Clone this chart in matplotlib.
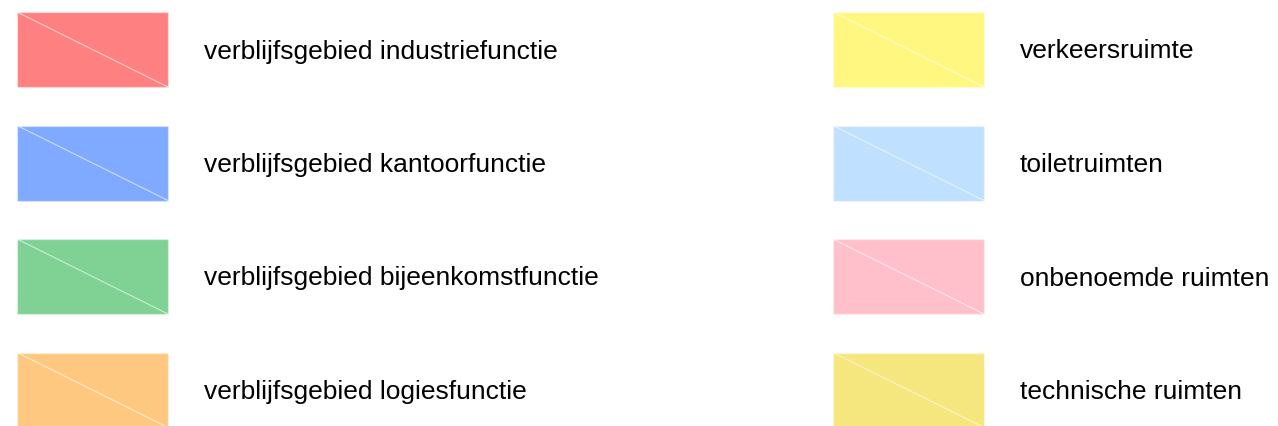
import matplotlib
matplotlib.use("Agg")
import matplotlib.pyplot as plt
from matplotlib.patches import Rectangle

plt.rcParams['font.family'] = ['Liberation Sans', 'DejaVu Sans']

labels_left = [
    "verblijfsgebied industriefunctie",
    "verblijfsgebied kantoorfunctie",
    "verblijfsgebied bijeenkomstfunctie",
    "verblijfsgebied logiesfunctie",
]
labels_right = [
    "verkeersruimte",
    "toiletruimten",
    "onbenoemde ruimten",
    "technische ruimten",
]
colors_left = ["#ff8080", "#80aaff", "#80d294", "#ffc880"]
colors_right = ["#fff780", "#c0e0ff", "#ffc0cb", "#f5e67e"]

W, H = 1278, 426
fig = plt.figure(figsize=(W / 100, H / 100), dpi=100)
ax = fig.add_axes([0, 0, 1, 1])
ax.set_xlim(0, W)
ax.set_ylim(H, 0)
ax.axis("off")

col_x = [17, 833]
row_y0 = 12
row_step = 113.5
sw_w, sw_h = 151, 75
text_dx = 187

for ci, (labels, colors) in enumerate([(labels_left, colors_left), (labels_right, colors_right)]):
    for ri, (lab, col) in enumerate(zip(labels, colors)):
        x = col_x[ci]
        y = row_y0 + ri * row_step
        ax.add_patch(Rectangle((x, y), sw_w, sw_h, facecolor=col,
                               edgecolor=(1, 1, 1, 0.35), lw=1))
        ax.plot([x, x + sw_w], [y, y + sw_h], color=(1, 1, 1, 0.6), lw=0.8)
        ax.text(x + text_dx, y + sw_h / 2 + 2, lab, fontsize=19,
                va="center", ha="left", color="#000000")

fig.savefig("out.png", dpi=100)
